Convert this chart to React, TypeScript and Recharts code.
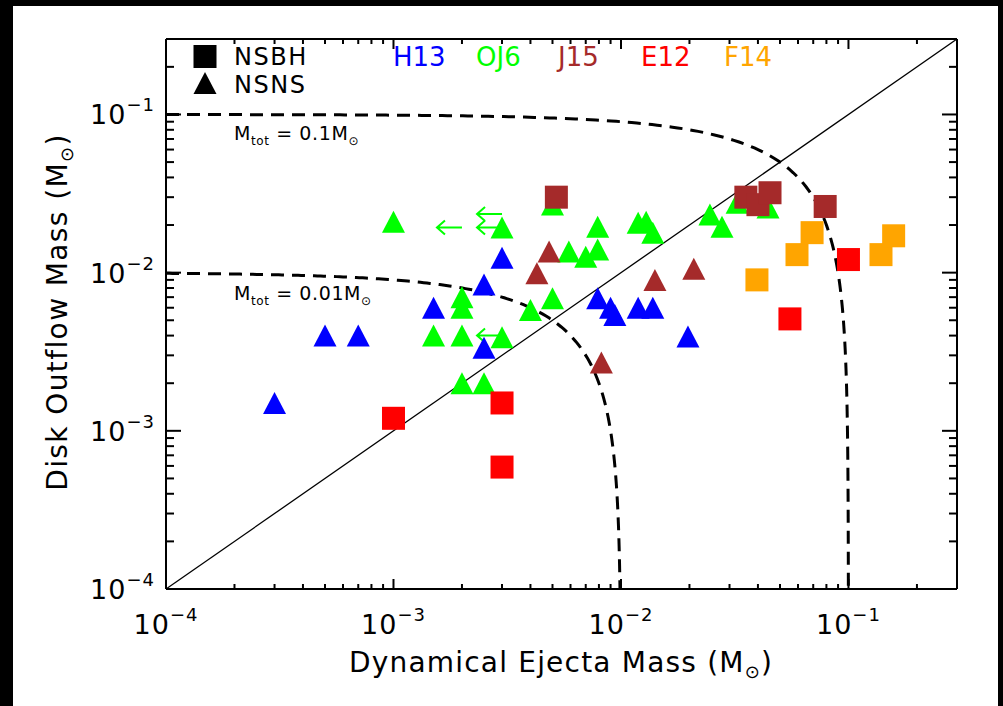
import React from 'react';
import { ScatterChart, Scatter, XAxis, YAxis, ReferenceLine } from 'recharts';

const FONT = '"DejaVu Sans", sans-serif';

type Pt = { x: number; y: number };

// axis ticks: decades + minor multipliers
const axisDomain: [number, number] = [1e-4, 0.3];
const decades = [1e-4, 1e-3, 1e-2, 1e-1];
const minorSteps = [1, 2, 3, 4, 5, 6, 7, 8, 9];
const allTicks = decades.flatMap((d) => minorSteps.map((k) => k * d)).filter((v) => v < 0.29);

// NSNS, H13
const h13: Pt[] = [
  { x: 3.0e-4, y: 1.5e-3 },
  { x: 5.0e-4, y: 4.0e-3 },
  { x: 7.0e-4, y: 4.0e-3 },
  { x: 1.5e-3, y: 6.0e-3 },
  { x: 2.5e-3, y: 8.4e-3 },
  { x: 3.0e-3, y: 1.24e-2 },
  { x: 2.5e-3, y: 3.35e-3 },
  { x: 7.9e-3, y: 6.9e-3 },
  { x: 9.0e-3, y: 6.0e-3 },
  { x: 9.4e-3, y: 5.4e-3 },
  { x: 1.19e-2, y: 6.0e-3 },
  { x: 1.38e-2, y: 6.0e-3 },
  { x: 1.97e-2, y: 3.95e-3 },
];

// NSNS, OJ6
const oj6: Pt[] = [
  { x: 1.0e-3, y: 2.1e-2 },
  { x: 3.0e-3, y: 1.93e-2 },
  { x: 5.0e-3, y: 2.7e-2 },
  { x: 2.0e-3, y: 7.0e-3 },
  { x: 2.0e-3, y: 6.0e-3 },
  { x: 1.5e-3, y: 4.0e-3 },
  { x: 2.0e-3, y: 4.0e-3 },
  { x: 3.0e-3, y: 3.9e-3 },
  { x: 2.0e-3, y: 2.0e-3 },
  { x: 2.5e-3, y: 2.0e-3 },
  { x: 4.0e-3, y: 5.8e-3 },
  { x: 5.0e-3, y: 6.9e-3 },
  { x: 5.9e-3, y: 1.36e-2 },
  { x: 7.0e-3, y: 1.26e-2 },
  { x: 7.9e-3, y: 1.4e-2 },
  { x: 7.9e-3, y: 1.95e-2 },
  { x: 1.19e-2, y: 2.07e-2 },
  { x: 1.29e-2, y: 2.1e-2 },
  { x: 1.38e-2, y: 1.79e-2 },
  { x: 2.46e-2, y: 2.33e-2 },
  { x: 2.78e-2, y: 1.95e-2 },
  { x: 3.24e-2, y: 2.77e-2 },
  { x: 4.43e-2, y: 2.58e-2 },
];

// OJ6 upper limits in x (arrows)
const oj6Limits: Pt[] = [
  { x: 2.0e-3, y: 1.93e-2 },
  { x: 3.0e-3, y: 2.35e-2 },
  { x: 3.0e-3, y: 1.93e-2 },
  { x: 3.0e-3, y: 4.0e-3 },
];

// J15
const j15Nsbh: Pt[] = [
  { x: 5.2e-3, y: 3.0e-2 },
  { x: 3.54e-2, y: 3.0e-2 },
  { x: 4.0e-2, y: 2.69e-2 },
  { x: 4.52e-2, y: 3.2e-2 },
  { x: 7.9e-2, y: 2.62e-2 },
];
const j15Nsns: Pt[] = [
  { x: 4.83e-3, y: 1.36e-2 },
  { x: 4.27e-3, y: 9.9e-3 },
  { x: 1.41e-2, y: 9.0e-3 },
  { x: 2.09e-2, y: 1.06e-2 },
  { x: 8.2e-3, y: 2.7e-3 },
];

// E12 (NSBH)
const e12: Pt[] = [
  { x: 1.0e-3, y: 1.2e-3 },
  { x: 3.0e-3, y: 1.5e-3 },
  { x: 3.0e-3, y: 5.9e-4 },
  { x: 5.53e-2, y: 5.1e-3 },
  { x: 0.1, y: 1.21e-2 },
];

// F14 (NSBH)
const f14: Pt[] = [
  { x: 3.96e-2, y: 9.0e-3 },
  { x: 5.94e-2, y: 1.3e-2 },
  { x: 6.92e-2, y: 1.79e-2 },
  { x: 0.139, y: 1.3e-2 },
  { x: 0.158, y: 1.71e-2 },
];

// constant total-mass curves: x + y = Mtot
const totalMasses = [0.1, 0.01];
const curvePoints = (m: number): Pt[] => {
  const pts: Pt[] = [];
  const n = 120;
  const a = Math.log10(1e-4);
  const b = Math.log10(m / 2);
  for (let i = 0; i <= n; i++) {
    const x = Math.pow(10, a + ((b - a) * i) / n);
    pts.push({ x, y: m - x });
  }
  for (let i = n - 1; i >= 0; i--) {
    const y = Math.pow(10, a + ((b - a) * i) / n);
    pts.push({ x: m - y, y });
  }
  return pts;
};

const isMajor = (v: number) => decades.some((d) => Math.abs(v / d - 1) < 1e-6);
const expOf = (v: number) => Math.round(Math.log10(v));

const square = (color: string) => (p: any) => (
  <rect x={p.cx - 11.5} y={p.cy - 11.5} width={23} height={23} fill={color} />
);
const triangle = (color: string) => (p: any) => (
  <polygon
    points={`${p.cx - 11.5},${p.cy + 11} ${p.cx + 11.5},${p.cy + 11} ${p.cx},${p.cy - 11}`}
    fill={color}
  />
);
const arrow = (color: string) => (p: any) => (
  <path
    d={`M${p.cx},${p.cy} L${p.cx - 25},${p.cy} M${p.cx - 17},${p.cy - 7} L${p.cx - 25},${p.cy} L${p.cx - 17},${p.cy + 7}`}
    stroke={color}
    strokeWidth={2}
    fill="none"
  />
);
const noShape = () => <g />;

const TickLabel = ({ x, y, v, anchor }: { x: number; y: number; v: number; anchor: 'middle' | 'end' }) => (
  <text x={x} y={y} textAnchor={anchor} fontFamily={FONT} fontSize={27} fill="#000" letterSpacing={1}>
    10
    <tspan fontSize={18} dy={-13}>
      {'\u2212' + Math.abs(expOf(v))}
    </tspan>
  </text>
);

const BottomTick = (props: any) => {
  const { x, y, payload } = props;
  const major = isMajor(payload.value);
  return (
    <g>
      <line x1={x} y1={y} x2={x} y2={y - (major ? 10 : 5)} stroke="#000" strokeWidth={2} />
      {major && <TickLabel x={x} y={y + 45} v={payload.value} anchor="middle" />}
    </g>
  );
};

const TopTick = (props: any) => {
  const { x, y, payload } = props;
  const major = isMajor(payload.value);
  return <line x1={x} y1={y} x2={x} y2={y + (major ? 10 : 5)} stroke="#000" strokeWidth={2} />;
};

const LeftTick = (props: any) => {
  const { x, y, payload } = props;
  const major = isMajor(payload.value);
  return (
    <g>
      <line x1={x} y1={y} x2={x + (major ? 15 : 8)} y2={y} stroke="#000" strokeWidth={2} />
      {major && <TickLabel x={x - 11} y={y + 10} v={payload.value} anchor="end" />}
    </g>
  );
};

const RightTick = (props: any) => {
  const { x, y, payload } = props;
  const major = isMajor(payload.value);
  return <line x1={x} y1={y} x2={x - (major ? 15 : 8)} y2={y} stroke="#000" strokeWidth={2} />;
};

const groups = [
  { name: 'H13', color: '#0000ff', x: 393 },
  { name: 'OJ6', color: '#00ff00', x: 476 },
  { name: 'J15', color: '#a52a2a', x: 558 },
  { name: 'E12', color: '#ff0000', x: 641 },
  { name: 'F14', color: '#ffa500', x: 724 },
];

const axisLine = { stroke: '#000', strokeWidth: 2 };

export default function App() {
  return (
    <div style={{ position: 'absolute', left: 0, top: 0, width: 1003, height: 706, background: '#000', overflow: 'hidden' }}>
      <div style={{ position: 'absolute', left: 13, top: 6, width: 985, height: 700, background: '#fff' }} />
      <div style={{ position: 'absolute', left: 0, top: 0 }}>
        <ScatterChart width={1003} height={706} margin={{ top: 38, right: 45, bottom: 116, left: 165 }}>
          <XAxis
            type="number"
            dataKey="x"
            scale="log"
            domain={axisDomain}
            allowDataOverflow
            ticks={allTicks}
            interval={0}
            height={1}
            tickSize={0}
            tickMargin={0}
            axisLine={axisLine}
            tick={<BottomTick />}
          />
          <XAxis
            xAxisId="top"
            orientation="top"
            type="number"
            dataKey="x"
            scale="log"
            domain={axisDomain}
            allowDataOverflow
            ticks={allTicks}
            interval={0}
            height={1}
            tickSize={0}
            tickMargin={0}
            axisLine={axisLine}
            tick={<TopTick />}
          />
          <YAxis
            type="number"
            dataKey="y"
            scale="log"
            domain={axisDomain}
            allowDataOverflow
            ticks={allTicks}
            interval={0}
            width={1}
            tickSize={0}
            tickMargin={0}
            axisLine={axisLine}
            tick={<LeftTick />}
          />
          <YAxis
            yAxisId="right"
            orientation="right"
            type="number"
            dataKey="y"
            scale="log"
            domain={axisDomain}
            allowDataOverflow
            ticks={allTicks}
            interval={0}
            width={1}
            tickSize={0}
            tickMargin={0}
            axisLine={axisLine}
            tick={<RightTick />}
          />
          <ReferenceLine
            segment={[
              { x: 1e-4, y: 1e-4 },
              { x: 0.3, y: 0.3 },
            ]}
            stroke="#000"
            strokeWidth={1.3}
          />
          {totalMasses.map((m) => (
            <Scatter
              key={m}
              data={curvePoints(m)}
              line={{ stroke: '#000', strokeWidth: 3, strokeDasharray: '13 8' }}
              shape={noShape}
              isAnimationActive={false}
            />
          ))}
          <Scatter data={oj6Limits} shape={arrow('#00ff00')} isAnimationActive={false} />
          <Scatter data={oj6} shape={triangle('#00ff00')} isAnimationActive={false} />
          <Scatter data={h13} shape={triangle('#0000ff')} isAnimationActive={false} />
          <Scatter data={j15Nsns} shape={triangle('#a52a2a')} isAnimationActive={false} />
          <Scatter data={j15Nsbh} shape={square('#a52a2a')} isAnimationActive={false} />
          <Scatter data={e12} shape={square('#ff0000')} isAnimationActive={false} />
          <Scatter data={f14} shape={square('#ffa500')} isAnimationActive={false} />
        </ScatterChart>
      </div>
      <svg width={1003} height={706} style={{ position: 'absolute', left: 0, top: 0, pointerEvents: 'none' }}>
        <g fontFamily={FONT} fill="#000">
          <rect x={193.5} y={45} width={23} height={23} fill="#000" />
          <polygon points="193.5,94 216.5,94 205,72" fill="#000" />
          <text x={234} y={65} fontSize={24} letterSpacing={1.5}>NSBH</text>
          <text x={234} y={93} fontSize={24} letterSpacing={1.5}>NSNS</text>
          {groups.map((g) => (
            <text key={g.name} x={g.x} y={66} fontSize={26} fill={g.color}>
              {g.name}
            </text>
          ))}
          <text x={234} y={140} fontSize={19} letterSpacing={0.6}>
            M<tspan fontSize={12} dy={5}>tot</tspan>
            <tspan dy={-5}>{' = 0.1M'}</tspan>
            <tspan fontSize={12} dy={5}>{'\u2299'}</tspan>
          </text>
          <text x={234} y={300} fontSize={19} letterSpacing={0.6}>
            M<tspan fontSize={12} dy={5}>tot</tspan>
            <tspan dy={-5}>{' = 0.01M'}</tspan>
            <tspan fontSize={12} dy={5}>{'\u2299'}</tspan>
          </text>
          <text x={561} y={672} fontSize={28} letterSpacing={1.2} textAnchor="middle">
            Dynamical Ejecta Mass (M<tspan fontSize={18} dy={6}>{'\u2299'}</tspan>
            <tspan dy={-6}>)</tspan>
          </text>
          <text x={67} y={312} fontSize={28} letterSpacing={1.4} textAnchor="middle" transform="rotate(-90 67 312)">
            Disk Outflow Mass (M<tspan fontSize={18} dy={6}>{'\u2299'}</tspan>
            <tspan dy={-6}>)</tspan>
          </text>
        </g>
      </svg>
    </div>
  );
}
